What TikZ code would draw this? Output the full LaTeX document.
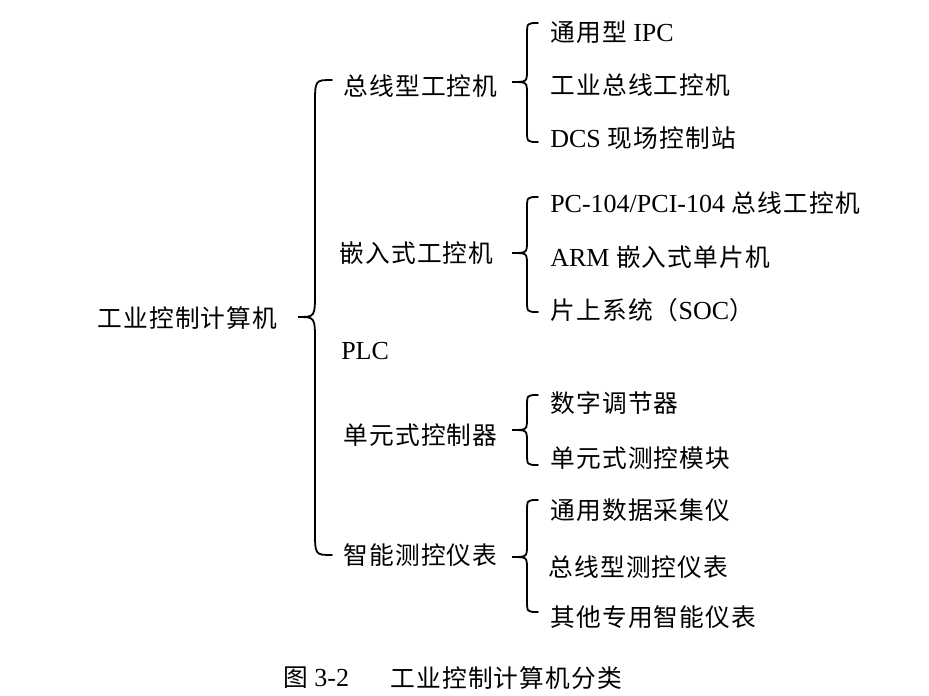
\documentclass[tikz,border=0pt]{standalone}
\usepackage{fontspec}
\setmainfont{Liberation Serif}
\newfontfamily\cjk[Scale=0.95,LetterSpace=5]{Noto Sans CJK SC}
\newcommand{\drawbrace}[7]{%
  \draw[bracestyle] (#1,#4) .. controls (#2,#4) .. (#2,#4+#7) -- (#2,#5-#7)
    .. controls (#2,#5) .. (#3,#5) .. controls (#2,#5) .. (#2,#5+#7)
    -- (#2,#6-#7) .. controls (#2,#6) .. (#1,#6);}
\begin{document}
\begin{tikzpicture}[x=0.75pt,y=-0.75pt,
  lbl/.style={anchor=west,inner sep=0pt,font=\fontsize{19.5}{22}\selectfont},
  bracestyle/.style={line width=1.35pt,line cap=round}]
\useasboundingbox (0,0) rectangle (929,696);
% root
\node[lbl] (root) at (97,318) {\cjk 工业控制计算机};
% level 1
\node[lbl] (a) at (343,86) {\cjk 总线型工控机};
\node[lbl] (b) at (339,253) {\cjk 嵌入式工控机};
\node[lbl] (c) at (341,351) {PLC};
\node[lbl] (d) at (343,435) {\cjk 单元式控制器};
\node[lbl] (e) at (343,555) {\cjk 智能测控仪表};
% level 2
\node[lbl] (a1) at (550,32) {{\cjk 通用型} IPC};
\node[lbl] (a2) at (550,85) {\cjk 工业总线工控机};
\node[lbl] (a3) at (550,138) {DCS {\cjk 现场控制站}};
\node[lbl] (b1) at (550,203) {PC-104/PCI-104 {\cjk 总线工控机}};
\node[lbl] (b2) at (550,257) {ARM {\cjk 嵌入式单片机}};
\node[lbl] (b3) at (550,310) {{\cjk 片上系统（}SOC{\cjk ）}};
\node[lbl] (d1) at (550,403) {\cjk 数字调节器};
\node[lbl] (d2) at (550,458) {\cjk 单元式测控模块};
\node[lbl] (e1) at (550,510) {\cjk 通用数据采集仪};
\node[lbl] (e2) at (548,567) {\cjk 总线型测控仪表};
\node[lbl] (e3) at (550,617) {\cjk 其他专用智能仪表};
% caption
\node[lbl] (capnum) at (283,678) {{\cjk 图} 3-2};
\node[lbl] (captxt) at (390,678) {\cjk 工业控制计算机分类};
% braces
\drawbrace{332}{315}{298}{80}{317}{555}{25}
\drawbrace{538}{527}{512}{23}{82}{142}{12}
\drawbrace{538}{527}{512}{197}{253}{312}{12}
\drawbrace{538}{527}{512}{395}{430}{465}{12}
\drawbrace{538}{527}{512}{500}{557}{612}{12}
\end{tikzpicture}
\end{document}
